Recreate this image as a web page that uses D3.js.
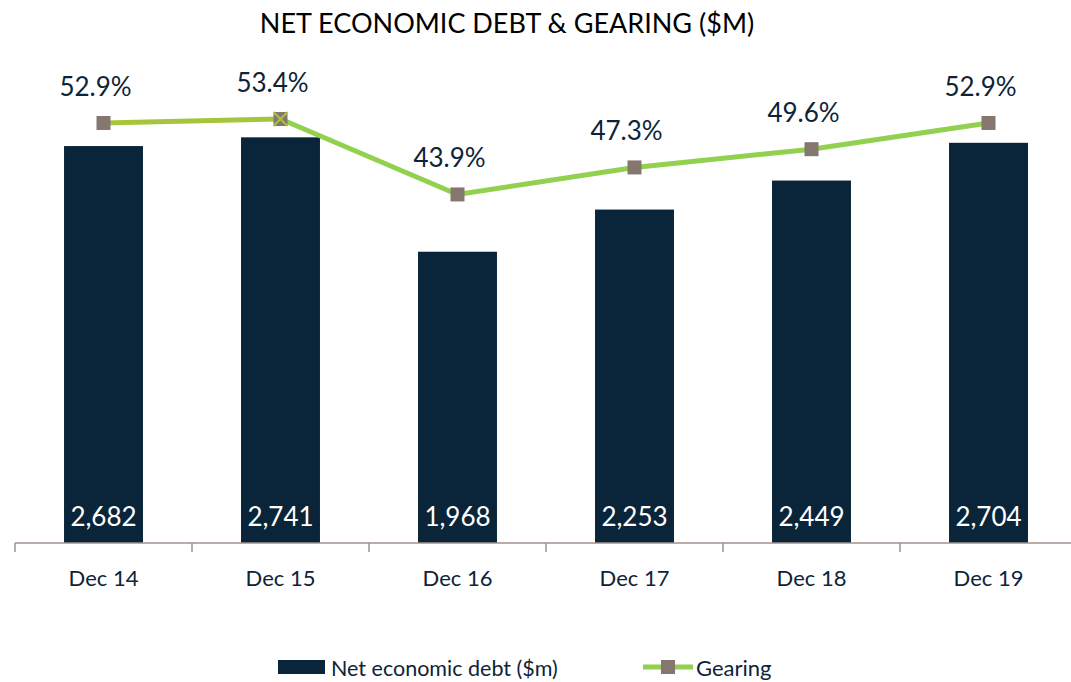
<!DOCTYPE html>
<html><head><meta charset="utf-8">
<script src="https://cdn.jsdelivr.net/npm/d3@7/dist/d3.min.js"></script>
<style>body{margin:0;background:#fff}svg{display:block}text{font-family:Lato,"Open Sans",sans-serif}</style>
</head><body>
<svg id="c" width="1071" height="682"></svg>
<script>
const categories = ["Dec 14","Dec 15","Dec 16","Dec 17","Dec 18","Dec 19"];
const debt = [2682,2741,1968,2253,2449,2704];
const gearing = [52.9,53.4,43.9,47.3,49.6,52.9];
const debtLabels = ["2,682","2,741","1,968","2,253","2,449","2,704"];
const gearingLabels = ["52.9%","53.4%","43.9%","47.3%","49.6%","52.9%"];

const svg = d3.select("#c");
const navy = "#0a2439", txt = "#0d2438";
const x = d3.scaleBand().domain(categories).range([15,1077]).paddingInner(0).paddingOuter(0);
const bw = x.bandwidth()*0.446;
const y = d3.scaleLinear().domain([0,3000]).range([543,99]);
const y2 = d3.scaleLinear().domain([0,60]).range([543,543-60*7.94]);
const cx = c => x(c)+x.bandwidth()/2;

svg.append("text").attr("x",507).attr("y",33).attr("text-anchor","middle")
  .attr("font-size",27).attr("fill","#000").text("NET ECONOMIC DEBT & GEARING ($M)");

svg.selectAll("rect.bar").data(debt).join("rect").attr("class","bar")
  .attr("x",(d,i)=>cx(categories[i])-bw/2).attr("width",bw)
  .attr("y",d=>y(d)).attr("height",d=>y(0)-y(d)).attr("fill",navy);

svg.selectAll("text.vl").data(debtLabels).join("text").attr("class","vl")
  .attr("x",(d,i)=>cx(categories[i])).attr("y",526).attr("text-anchor","middle")
  .attr("font-size",26).attr("fill","#fff").text(d=>d);

// axis
const ax = svg.append("g").attr("transform","translate(0,543)");
ax.append("line").attr("x1",15).attr("x2",1077).attr("stroke","#a0928b").attr("stroke-width",1.5);
ax.selectAll("line.t").data(categories).join("line").attr("class","t")
  .attr("x1",d=>x(d)).attr("x2",d=>x(d)).attr("y1",0).attr("y2",9).attr("stroke","#a0928b").attr("stroke-width",1.5);
ax.selectAll("text").data(categories).join("text").attr("x",d=>cx(d)).attr("y",43)
  .attr("text-anchor","middle").attr("font-size",22).attr("fill",txt).text(d=>d);

// line
const pts = gearing.map((g,i)=>[cx(categories[i]), y2(g)]);
const line = d3.line();
svg.append("path").attr("d",line(pts.slice(0,2))).attr("stroke","#a6c53c").attr("stroke-width",5).attr("fill","none");
svg.append("path").attr("d",line(pts.slice(1))).attr("stroke","#92d050").attr("stroke-width",5).attr("fill","none");
svg.selectAll("rect.m").data(pts).join("rect").attr("class","m")
  .attr("x",d=>d[0]-7).attr("y",d=>d[1]-7).attr("width",14).attr("height",14).attr("fill","#857670");
// X on Dec 15 marker
const p1 = pts[1];
svg.append("path").attr("d",`M${p1[0]-7},${p1[1]-7}L${p1[0]+7},${p1[1]+7}M${p1[0]+7},${p1[1]-7}L${p1[0]-7},${p1[1]+7}`)
  .attr("stroke","#a6c53c").attr("stroke-width",2);

svg.selectAll("text.gl").data(gearingLabels).join("text").attr("class","gl")
  .attr("x",(d,i)=>pts[i][0]-8).attr("y",(d,i)=>pts[i][1]-27).attr("text-anchor","middle")
  .attr("font-size",26).attr("fill",txt).text(d=>d);

// legend
svg.append("rect").attr("x",278).attr("y",660).attr("width",47).attr("height",14).attr("fill",navy);
svg.append("text").attr("x",331).attr("y",676).attr("font-size",21.5).attr("fill",txt).text("Net economic debt ($m)");
svg.append("line").attr("x1",643).attr("x2",693).attr("y1",667).attr("y2",667).attr("stroke","#92d050").attr("stroke-width",5);
svg.append("rect").attr("x",661).attr("y",660).attr("width",14).attr("height",14).attr("fill","#857670");
svg.append("text").attr("x",696).attr("y",676).attr("font-size",22).attr("fill",txt).text("Gearing");
</script>
</body></html>
